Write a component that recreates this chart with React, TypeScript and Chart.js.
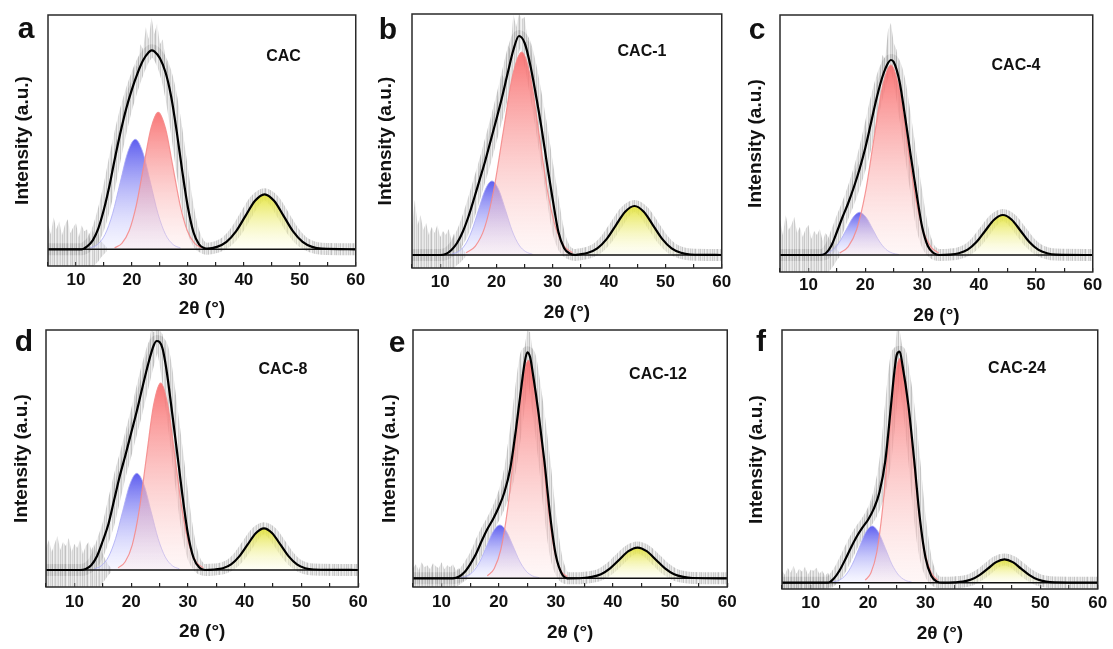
import React, { useEffect, useRef } from 'react';
import { Chart, registerables } from 'chart.js';

Chart.register(...registerables);

const FONT = '"Liberation Sans", Arial, Helvetica, sans-serif';

// ---- axis definitions ----
const X_MIN = 5;
const X_MAX = 60;
const X_STEP = 5;
const X_LABEL_EVERY = 10;
const X_TITLE = '2θ (°)';
const Y_TITLE = 'Intensity (a.u.)';

// ---- panel a : CAC ----
const aMainX = [5, 11, 12, 13, 14, 15, 16, 17, 18, 19, 20, 21, 22, 23, 23.5, 24, 25, 26, 27, 28, 29, 30, 31, 32, 33];
const aMainY = [0, 0, 3, 9, 21, 40, 64, 92, 118, 141, 160, 176, 189, 197, 199, 198, 191, 177, 153, 118, 78, 42, 17, 5, 1];
const aBlueX = [12.5, 13.85, 15.2, 16.55, 17.9, 19.25, 20.6, 21.95, 23.3, 24.65, 26.0, 27.35, 28.7];
const aBlueY = [1.2, 4.8, 14.9, 35.8, 66.8, 97, 110, 97, 66.8, 35.8, 14.9, 4.8, 1.2];
const aRedX = [16.9, 18.2, 19.5, 20.8, 22.1, 23.4, 24.7, 26.0, 27.3, 28.6, 29.9, 31.2, 32.5];
const aRedY = [1.5, 6, 18.5, 44.5, 83.2, 120.8, 137, 120.8, 83.2, 44.5, 18.5, 6, 1.5];
const aYelX = [33.5, 35.2, 36.9, 38.6, 40.3, 42.0, 43.7, 45.4, 47.1, 48.8, 50.5, 52.2, 53.9];
const aYelY = [0.6, 2.4, 7.4, 17.9, 33.4, 48.5, 55, 48.5, 33.4, 17.9, 7.4, 2.4, 0.6];
const aSpikeX = [16, 17, 18, 19, 20, 20.5, 21, 21.5, 22, 22.5, 23, 23.5, 24, 24.5, 25, 25.5, 26, 26.5, 27, 28];
const aSpikeY = [66, 104, 126, 156, 170, 185, 182, 205, 200, 222, 210, 232, 215, 226, 205, 210, 190, 182, 160, 120];
const aNoiseX = [5, 5.5, 6, 6.5, 7, 7.5, 8, 8.5, 9, 9.5, 10, 10.5, 11, 11.5, 12, 12.5, 13, 13.5, 14, 14.5, 15, 15.5];
const aNoiseHi = [25, 15, 32, 20, 28, 14, 24, 30, 16, 22, 26, 12, 24, 18, 20, 10, 19, 12, 16, 8, 5, 2];
const aNoiseLo = [-17, -17, -17, -17, -17, -17, -17, -17, -17, -17, -17, -17, -17, -17, -17, -17, -17, -15, -12, -8, -5, -2];

// ---- panel b : CAC-1 ----
const bMainX = [5, 10, 11, 12, 13, 14, 15, 16, 17, 18, 19, 20, 21, 22, 23, 24, 25, 26, 27, 28, 29, 30, 31, 32, 33, 34];
const bMainY = [0, 0, 1, 5, 12, 23, 38, 56, 75, 94, 115, 136, 158, 182, 205, 219, 212, 190, 160, 127, 90, 55, 23, 7, 1.5, 0];
const bBlueX = [12.0, 13.2, 14.4, 15.6, 16.8, 18.0, 19.2, 20.4, 21.6, 22.8, 24.0, 25.2, 26.4];
const bBlueY = [0.8, 3.3, 10, 24, 45, 65.3, 74, 65.3, 45, 24, 10, 3.3, 0.8];
const bRedX = [14.6, 16.25, 17.9, 19.55, 21.2, 22.85, 24.5, 26.0, 27.5, 29.0, 30.5, 32.0, 33.5];
const bRedY = [2.2, 8.9, 27.4, 66, 123.2, 179, 203, 179, 123.2, 66, 27.4, 8.9, 2.2];
const bYelX = [34.6, 36.25, 37.9, 39.55, 41.2, 42.85, 44.5, 46.15, 47.8, 49.45, 51.1, 52.75, 54.4];
const bYelY = [0.5, 2.2, 6.6, 15.9, 29.7, 43.2, 49, 43.2, 29.7, 15.9, 6.6, 2.2, 0.5];
const bSpikeX = [16, 17, 18, 19, 20, 21, 21.5, 22, 22.5, 23, 23.5, 24, 24.5, 25, 25.5, 26, 27, 28];
const bSpikeY = [58, 88, 104, 132, 148, 180, 176, 210, 205, 241, 228, 241, 236, 238, 215, 212, 172, 130];
const bNoiseX = [5, 5.5, 6, 6.5, 7, 7.5, 8, 8.5, 9, 9.5, 10, 10.5, 11, 11.5, 12, 12.5, 13, 13.5, 14, 14.5];
const bNoiseHi = [28, 55, 30, 40, 25, 32, 20, 28, 22, 30, 18, 24, 20, 26, 15, 22, 12, 14, 6, 2];
const bNoiseLo = [-13, -13, -13, -13, -13, -13, -13, -13, -13, -13, -13, -13, -13, -13, -13, -13, -10, -8, -5, -2];

// ---- panel c : CAC-4 ----
const cMainX = [5, 12, 13, 14, 15, 16, 17, 18, 19, 20, 21, 22, 23, 24, 24.5, 25, 26, 27, 28, 29, 30, 31, 32, 33];
const cMainY = [0, 0, 1.5, 9, 23, 38, 52, 68, 86, 107, 132, 157, 178, 192, 195, 193, 174, 138, 99, 62, 28, 9, 2, 0];
const cBlueX = [12.1, 13.25, 14.4, 15.55, 16.7, 17.85, 19.0, 20.15, 21.3, 22.45, 23.6, 24.75, 25.9];
const cBlueY = [0.5, 1.9, 5.8, 13.9, 25.9, 37.7, 42.7, 37.7, 25.9, 13.9, 5.8, 1.9, 0.5];
const cRedX = [15.5, 17, 18.5, 20, 21.5, 23, 24.5, 25.9, 27.3, 28.7, 30.1, 31.5, 32.9];
const cRedY = [2.1, 8.4, 25.7, 61.8, 115.3, 167.6, 190, 167.6, 115.3, 61.8, 25.7, 8.4, 2.1];
const cYelX = [34.9, 36.45, 38, 39.55, 41.1, 42.65, 44.2, 45.75, 47.3, 48.85, 50.4, 51.95, 53.5];
const cYelY = [0.4, 1.8, 5.4, 13, 24.3, 35.3, 40, 35.3, 24.3, 13, 5.4, 1.8, 0.4];
const cSpikeX = [17, 18, 19, 20, 21, 22, 22.5, 23, 23.5, 24, 24.5, 25, 25.5, 26, 27, 28];
const cSpikeY = [54, 82, 96, 122, 142, 172, 180, 200, 196, 225, 232, 212, 205, 186, 148, 100];
const cNoiseX = [5, 5.5, 6, 6.5, 7, 7.5, 8, 8.5, 9, 9.5, 10, 10.5, 11, 11.5, 12, 12.5, 13, 13.5, 14, 14.5, 15, 15.5];
const cNoiseHi = [35, 20, 40, 25, 30, 38, 22, 28, 18, 26, 30, 16, 24, 20, 26, 14, 22, 18, 12, 15, 6, 2];
const cNoiseLo = [-17, -17, -17, -17, -17, -17, -17, -17, -17, -17, -17, -17, -17, -17, -17, -17, -17, -17, -14, -10, -5, -2];

// ---- panel d : CAC-8 ----
const dMainX = [5, 11, 12, 13, 14, 15, 16, 17, 18, 19, 20, 21, 22, 23, 24, 24.5, 25, 25.5, 26, 26.5, 27, 28, 29, 30, 31, 32, 33];
const dMainY = [0, 0, 1, 5, 14, 29, 46, 70, 94, 115, 137, 159, 183, 206, 225, 229, 228, 222, 208, 189, 167, 122, 76, 36, 12, 2.5, 0];
const dBlueX = [13.5, 14.75, 16, 17.25, 18.5, 19.75, 21, 22.25, 23.5, 24.75, 26, 27.25, 28.5];
const dBlueY = [1.1, 4.3, 13.1, 31.4, 58.7, 85.3, 96.7, 85.3, 58.7, 31.4, 13.1, 4.3, 1.1];
const dRedX = [17.7, 18.95, 20.2, 21.45, 22.7, 23.95, 25.2, 26.45, 27.7, 28.95, 30.2, 31.45, 32.7];
const dRedY = [2.1, 8.2, 25.2, 60.8, 113.5, 164.9, 187, 164.9, 113.5, 60.8, 25.2, 8.2, 2.1];
const dYelX = [34.7, 36.15, 37.6, 39.05, 40.5, 41.95, 43.4, 44.85, 46.3, 47.75, 49.2, 50.65, 52.1];
const dYelY = [0.5, 1.8, 5.6, 13.6, 25.3, 36.8, 41.7, 36.8, 25.3, 13.6, 5.6, 1.8, 0.5];
const dSpikeX = [16, 17, 18, 19, 20, 21, 22, 22.5, 23, 23.5, 24, 24.5, 25, 25.5, 26, 27, 28];
const dSpikeY = [48, 86, 104, 132, 150, 178, 196, 212, 220, 240, 238, 240, 240, 236, 222, 178, 124];
const dNoiseX = [5, 5.5, 6, 6.5, 7, 7.5, 8, 8.5, 9, 9.5, 10, 10.5, 11, 11.5, 12, 12.5, 13, 13.5, 14, 14.5, 15, 15.5, 16, 16.5];
const dNoiseHi = [22, 30, 18, 26, 34, 20, 28, 24, 32, 18, 26, 22, 30, 16, 24, 28, 20, 26, 14, 22, 16, 10, 5, 2];
const dNoiseLo = [-17, -17, -17, -17, -17, -17, -17, -17, -17, -17, -17, -17, -17, -17, -17, -17, -17, -17, -17, -17, -13, -9, -5, -2];

// ---- panel e : CAC-12 ----
const eMainX = [5, 12, 13, 14, 15, 16, 17, 18, 19, 20, 21, 22, 23, 24, 24.5, 25, 25.5, 26, 27, 28, 29, 30, 31, 32];
const eMainY = [0, 0, 1.5, 6, 14, 24, 37, 49, 59, 71, 86, 109, 148, 193, 214, 226, 221, 204, 164, 117, 63, 23, 5, 0];
const eBlueX = [13.3, 14.45, 15.6, 16.75, 17.9, 19.05, 20.2, 21.35, 22.5, 23.65, 24.8, 25.95, 27.1];
const eBlueY = [0.6, 2.3, 7.2, 17.3, 32.4, 47, 53.3, 47, 32.4, 17.3, 7.2, 2.3, 0.6];
const eRedX = [18, 19.2, 20.4, 21.6, 22.8, 24, 25.2, 26.4, 27.6, 28.7, 29.8, 30.9, 32];
const eRedY = [2.4, 9.6, 29.4, 70.9, 132.3, 192.3, 218, 190, 130, 68, 26, 7.5, 1.5];
const eYelX = [34.7, 36.3, 37.9, 39.5, 41.1, 42.7, 44.3, 45.9, 47.5, 49.1, 50.7, 52.3, 53.9];
const eYelY = [0.3, 1.4, 4.1, 10, 18.6, 27.1, 30.7, 27.1, 18.6, 10, 4.1, 1.4, 0.3];
const eSpikeX = [19, 20, 21, 22, 23, 23.5, 24, 24.5, 25, 25.5, 26, 26.5, 27, 28];
const eSpikeY = [60, 82, 95, 122, 160, 180, 212, 230, 248, 246, 225, 200, 175, 120];
const eNoiseX = [5, 5.5, 6, 6.5, 7, 7.5, 8, 8.5, 9, 9.5, 10, 10.5, 11, 11.5, 12, 12.5, 13, 13.5, 14, 14.5];
const eNoiseHi = [10, 14, 8, 16, 11, 13, 9, 15, 12, 10, 16, 9, 13, 11, 14, 8, 10, 6, 4, 2];
const eNoiseLo = [-8.7, -8.7, -8.7, -8.7, -8.7, -8.7, -8.7, -8.7, -8.7, -8.7, -8.7, -8.7, -8.7, -8.7, -8.7, -8.7, -7, -5, -3, -1];

// ---- panel f : CAC-24 ----
const fMainX = [5, 13, 14, 15, 16, 17, 18, 19, 20, 21, 22, 23, 24, 24.5, 25, 25.5, 26, 27, 28, 29, 30, 31, 32, 33];
const fMainY = [0, 0, 4, 12, 23, 35, 46, 55, 63, 74, 91, 122, 178, 207, 228, 231, 217, 178, 124, 65, 25, 7, 1, 0];
const fBlueX = [13.8, 14.95, 16.1, 17.25, 18.4, 19.55, 20.7, 21.85, 23, 24.15, 25.3, 26.45, 27.6];
const fBlueY = [0.6, 2.5, 7.7, 18.4, 34.4, 50, 56.7, 50, 34.4, 18.4, 7.7, 2.5, 0.6];
const fRedX = [19.5, 20.5, 21.5, 22.5, 23.5, 24.5, 25.5, 26.6, 27.7, 28.8, 29.9, 31, 32.1];
const fRedY = [2.5, 9.9, 30.2, 72.8, 136, 197.6, 224, 197.6, 136, 72.8, 30.2, 9.9, 2.5];
const fYelX = [35.05, 36.5, 37.95, 39.4, 40.85, 42.3, 43.75, 45.2, 46.65, 48.1, 49.55, 51, 52.45];
const fYelY = [0.3, 1, 3.1, 7.6, 14.1, 20.6, 23.3, 20.6, 14.1, 7.6, 3.1, 1, 0.3];
const fSpikeX = [19, 20, 21, 22, 23, 23.5, 24, 24.5, 25, 25.5, 26, 26.5, 27, 28];
const fSpikeY = [58, 72, 86, 102, 136, 160, 196, 225, 252, 252, 235, 212, 188, 128];
const fNoiseX = [5, 5.5, 6, 6.5, 7, 7.5, 8, 8.5, 9, 9.5, 10, 10.5, 11, 11.5, 12, 12.5, 13, 13.5, 14, 14.5];
const fNoiseHi = [12, 8, 15, 10, 17, 9, 14, 11, 16, 8, 13, 12, 15, 9, 12, 7, 10, 5, 3, 1];
const fNoiseLo = [-6.3, -6.3, -6.3, -6.3, -6.3, -6.3, -6.3, -6.3, -6.3, -6.3, -6.3, -6.3, -6.3, -6.3, -6.3, -6.3, -5, -4, -2, -1];

const PANELS = [
  { letter: 'a', sample: 'CAC', mainX: aMainX, mainY: aMainY, blueX: aBlueX, blueY: aBlueY, redX: aRedX, redY: aRedY, yelX: aYelX, yelY: aYelY, spikeX: aSpikeX, spikeY: aSpikeY, noiseX: aNoiseX, noiseHi: aNoiseHi, noiseLo: aNoiseLo },
  { letter: 'b', sample: 'CAC-1', mainX: bMainX, mainY: bMainY, blueX: bBlueX, blueY: bBlueY, redX: bRedX, redY: bRedY, yelX: bYelX, yelY: bYelY, spikeX: bSpikeX, spikeY: bSpikeY, noiseX: bNoiseX, noiseHi: bNoiseHi, noiseLo: bNoiseLo },
  { letter: 'c', sample: 'CAC-4', mainX: cMainX, mainY: cMainY, blueX: cBlueX, blueY: cBlueY, redX: cRedX, redY: cRedY, yelX: cYelX, yelY: cYelY, spikeX: cSpikeX, spikeY: cSpikeY, noiseX: cNoiseX, noiseHi: cNoiseHi, noiseLo: cNoiseLo },
  { letter: 'd', sample: 'CAC-8', mainX: dMainX, mainY: dMainY, blueX: dBlueX, blueY: dBlueY, redX: dRedX, redY: dRedY, yelX: dYelX, yelY: dYelY, spikeX: dSpikeX, spikeY: dSpikeY, noiseX: dNoiseX, noiseHi: dNoiseHi, noiseLo: dNoiseLo },
  { letter: 'e', sample: 'CAC-12', mainX: eMainX, mainY: eMainY, blueX: eBlueX, blueY: eBlueY, redX: eRedX, redY: eRedY, yelX: eYelX, yelY: eYelY, spikeX: eSpikeX, spikeY: eSpikeY, noiseX: eNoiseX, noiseHi: eNoiseHi, noiseLo: eNoiseLo },
  { letter: 'f', sample: 'CAC-24', mainX: fMainX, mainY: fMainY, blueX: fBlueX, blueY: fBlueY, redX: fRedX, redY: fRedY, yelX: fYelX, yelY: fYelY, spikeX: fSpikeX, spikeY: fSpikeY, noiseX: fNoiseX, noiseHi: fNoiseHi, noiseLo: fNoiseLo },
];

// ---- page layout (pixels) ----
const LAYOUT = [
  { l: 48, t: 15, r: 359, b: 266, base: 249.3, tickY: 280, xTitleY: 309, yTitleX: 22.5, letterX: 26, letterBase: 38, labelX: 283.5, labelY: 55.5 },
  { l: 412, t: 14, r: 725, b: 268, base: 255, tickY: 282, xTitleY: 313, yTitleX: 386, letterX: 388, letterBase: 39, labelX: 642, labelY: 51 },
  { l: 780, t: 15, r: 1095, b: 272, base: 255, tickY: 285, xTitleY: 316, yTitleX: 756, letterX: 757, letterBase: 39, labelX: 1016, labelY: 64.5 },
  { l: 46, t: 330, r: 363, b: 587, base: 570, tickY: 602.5, xTitleY: 632, yTitleX: 22, letterX: 24, letterBase: 351, labelX: 283, labelY: 369 },
  { l: 413, t: 330, r: 732, b: 587, base: 578.3, tickY: 602.5, xTitleY: 633, yTitleX: 390, letterX: 397, letterBase: 352, labelX: 658, labelY: 373.5 },
  { l: 782, t: 330, r: 1101, b: 589, base: 582.7, tickY: 603, xTitleY: 634, yTitleX: 756.7, letterX: 761, letterBase: 351, labelX: 1017, labelY: 367.5 },
];

const Y_AXIS_W = 50;
const X_AXIS_H = 62;
const PAD_TOP = 4;
const PAD_RIGHT = 14;
const TICK_FONT = 17;
const TITLE_FONT = 19;
const TICK_LEN = -4;
const FIT_INDEX = 8;

function pts(xs: number[], ys: number[]) {
  return xs.map((x, i) => ({ x, y: ys[i] }));
}

function noisePattern(ctx: CanvasRenderingContext2D) {
  const c = document.createElement('canvas');
  const alphas = [0.5, 0.18, 0.36, 0.62, 0.22, 0.12, 0.45, 0.3, 0.55, 0.18, 0.4, 0.26, 0.58, 0.14, 0.36, 0.5, 0.22, 0.3, 0.45, 0.18, 0.52, 0.26];
  c.width = alphas.length;
  c.height = 4;
  const g = c.getContext('2d')!;
  alphas.forEach((a, i) => {
    g.fillStyle = `rgba(155,155,155,${a})`;
    g.fillRect(i, 0, 1, 4);
  });
  return ctx.createPattern(c, 'repeat');
}

function vgrad(top: string, bottom: string) {
  return (c: any) => {
    const chart = c.chart;
    const area = chart.chartArea;
    if (!area || !c.dataset) return bottom;
    const ys = c.dataset.data.map((d: any) => d.y);
    const sy = chart.scales.y;
    const g = chart.ctx.createLinearGradient(0, sy.getPixelForValue(Math.max(...ys)), 0, sy.getPixelForValue(0));
    g.addColorStop(0, top);
    g.addColorStop(1, bottom);
    return g;
  };
}

const boxPlugin = {
  id: 'panelBox',
  afterDatasetsDraw(chart: any) {
    const { ctx, chartArea: a } = chart;
    ctx.save();
    ctx.strokeStyle = '#2a2a2a';
    ctx.lineWidth = 1.5;
    ctx.strokeRect(a.left, a.top, a.right - a.left, a.bottom - a.top);
    ctx.restore();
  },
};

function Panel({ p, g }: any) {
  const ref = useRef<HTMLCanvasElement>(null);
  const cl = g.l - Y_AXIS_W;
  const ct = g.t - PAD_TOP;
  const cw = Y_AXIS_W + (g.r - g.l) + PAD_RIGHT;
  const ch = PAD_TOP + (g.b - g.t) + X_AXIS_H;

  useEffect(() => {
    const canvas = ref.current!;
    const ctx = canvas.getContext('2d')!;
    const pat = noisePattern(ctx);
    const fit = [...pts(p.mainX, p.mainY), ...pts(p.yelX, p.yelY), { x: X_MAX, y: 0 }];
    const common = { pointRadius: 0, pointHoverRadius: 0, clip: 0, cubicInterpolationMode: 'monotone' };
    const jag = { cubicInterpolationMode: 'default', tension: 0 };
    const tickLh = TICK_FONT * 1.2;
    const titleLh = TITLE_FONT * 1.2;
    const titleFont = { family: FONT, size: TITLE_FONT, weight: 'bold' };

    const chart = new Chart(ctx, {
      type: 'line',
      data: {
        datasets: [
          { ...common, ...jag, label: 'noise+', data: pts(p.noiseX, p.noiseHi), borderWidth: 0, fill: '+1', backgroundColor: pat, order: 10 },
          { ...common, ...jag, label: 'noise-', data: pts(p.noiseX, p.noiseLo), borderWidth: 0, fill: false, order: 11 },
          { ...common, ...jag, label: 'spikes', data: pts(p.spikeX, p.spikeY), borderWidth: 0, fill: FIT_INDEX, backgroundColor: pat, order: 9.5 },
          { ...common, label: 'raw', data: fit, borderColor: pat, borderWidth: 12, fill: false, order: 9 },
          { ...common, label: 'peak 3', data: pts(p.yelX, p.yelY), fill: 'origin', backgroundColor: vgrad('rgba(228,228,60,0.95)', 'rgba(252,252,225,0.3)'), borderColor: 'rgba(210,210,100,0.5)', borderWidth: 1, order: 6 },
          { ...common, label: 'peak 1', data: pts(p.blueX, p.blueY), fill: 'origin', backgroundColor: vgrad('rgba(85,85,238,0.95)', 'rgba(228,228,255,0.3)'), borderColor: 'rgba(170,170,245,0.8)', borderWidth: 1, order: 5 },
          { ...common, label: 'peak 2', data: pts(p.redX, p.redY), fill: 'origin', backgroundColor: vgrad('rgba(248,105,105,0.9)', 'rgba(253,228,228,0.3)'), borderColor: 'rgba(245,140,140,0.9)', borderWidth: 1.2, order: 4 },
          { ...common, label: 'baseline', data: [{ x: X_MIN, y: 0 }, { x: X_MAX, y: 0 }], borderColor: '#111', borderWidth: 1.6, fill: false, order: 2 },
          { ...common, label: 'fit', data: fit, borderColor: '#000', borderWidth: 2.2, fill: false, order: 1 },
        ],
      },
      options: {
        responsive: false,
        animation: false,
        devicePixelRatio: 1,
        events: [],
        layout: { autoPadding: false, padding: { top: PAD_TOP, right: PAD_RIGHT, left: 0, bottom: 0 } },
        plugins: { legend: { display: false }, tooltip: { enabled: false }, filler: { propagate: false } },
        scales: {
          x: {
            type: 'linear',
            min: X_MIN,
            max: X_MAX,
            position: 'bottom',
            z: 1,
            ticks: {
              stepSize: X_STEP,
              autoSkip: false,
              maxRotation: 0,
              minRotation: 0,
              padding: g.tickY - g.b - TICK_LEN - tickLh / 2,
              color: '#111',
              font: { family: FONT, size: TICK_FONT, weight: 'bold' },
              callback: (v: any) => (Number(v) % X_LABEL_EVERY === 0 ? String(v) : ''),
            },
            grid: { display: true, drawOnChartArea: false, drawTicks: true, tickLength: TICK_LEN, color: '#222', lineWidth: 1.2 },
            border: { display: false },
            title: { display: true, text: X_TITLE, color: '#111', font: titleFont, padding: { top: 0, bottom: ct + ch - g.xTitleY - titleLh / 2 } },
            afterFit: (s: any) => { s.height = X_AXIS_H; },
          },
          y: {
            type: 'linear',
            min: -(g.b - g.base),
            max: g.base - g.t,
            ticks: { display: false },
            grid: { display: false },
            border: { display: false },
            title: { display: true, text: Y_TITLE, color: '#111', font: titleFont, padding: { top: g.yTitleX - cl - titleLh / 2, bottom: 0 } },
            afterFit: (s: any) => { s.width = Y_AXIS_W; },
          },
        },
      } as any,
      plugins: [boxPlugin],
    } as any);
    return () => chart.destroy();
  }, []);

  return (
    <canvas
      ref={ref}
      width={cw}
      height={ch}
      style={{ position: 'absolute', left: cl, top: ct, width: cw, height: ch }}
    />
  );
}

export default function App() {
  return (
    <div style={{ position: 'absolute', left: 0, top: 0, width: 1113, height: 649, background: '#fff', overflow: 'hidden', fontFamily: FONT }}>
      {PANELS.map((p, i) => (
        <Panel key={'p' + i} p={p} g={LAYOUT[i]} />
      ))}
      {PANELS.map((p, i) => (
        <div
          key={'l' + i}
          style={{ position: 'absolute', left: LAYOUT[i].letterX, top: LAYOUT[i].letterBase - 25.4, transform: 'translateX(-50%)', fontSize: 30, lineHeight: '30px', fontWeight: 'bold', color: '#111' }}
        >
          {p.letter}
        </div>
      ))}
      {PANELS.map((p, i) => (
        <div
          key={'s' + i}
          style={{ position: 'absolute', left: LAYOUT[i].labelX, top: LAYOUT[i].labelY - 8, transform: 'translateX(-50%)', fontSize: 16, lineHeight: '16px', fontWeight: 'bold', color: '#111', whiteSpace: 'nowrap' }}
        >
          {p.sample}
        </div>
      ))}
    </div>
  );
}
